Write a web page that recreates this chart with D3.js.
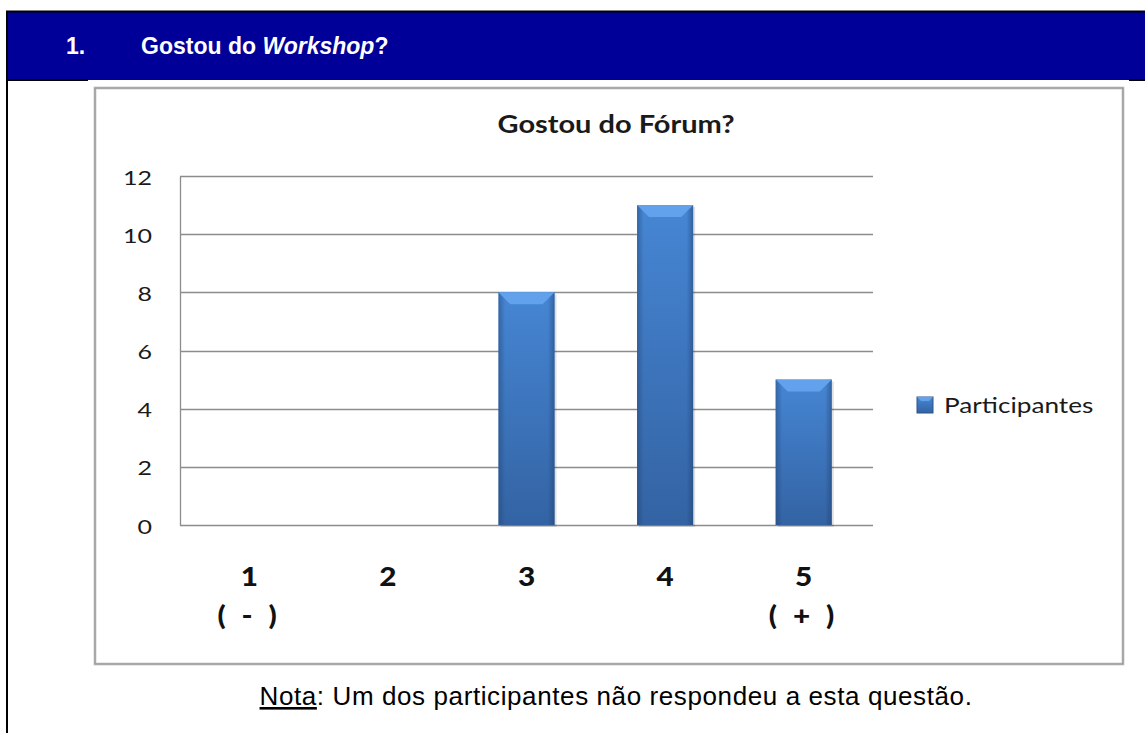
<!DOCTYPE html>
<html>
<head>
<meta charset="utf-8">
<script src="https://cdn.jsdelivr.net/npm/d3@7"></script>
<style>
  html, body { margin: 0; padding: 0; background: #fff; }
  svg { display: block; }
</style>
</head>
<body>
<div id="chart"></div>
<script>
// chart data
var categories = ['1', '2', '3', '4', '5'];
var subLabels = ['( - )', '', '', '', '( + )'];
var participantes = [0, 0, 8, 11, 5];
var yTicks = [0, 2, 4, 6, 8, 10, 12];
var seriesName = 'Participantes';
var chartTitle = 'Gostou do Fórum?';
var noteText = ': Um dos participantes não respondeu a esta questão.';

var width = 1145, height = 733;
var svg = d3.select('#chart').append('svg')
  .attr('width', width)
  .attr('height', height);

var defs = svg.append('defs');
var grad = defs.append('linearGradient')
  .attr('id', 'barGrad').attr('x1', 0).attr('y1', 0).attr('x2', 0).attr('y2', 1);
grad.append('stop').attr('offset', '0%').attr('stop-color', '#4686d4');
grad.append('stop').attr('offset', '100%').attr('stop-color', '#3363a3');
var side = defs.append('linearGradient')
  .attr('id', 'sideGrad').attr('x1', 0).attr('y1', 0).attr('x2', 1).attr('y2', 0);
side.append('stop').attr('offset', '0%').attr('stop-color', '#1f3f6e').attr('stop-opacity', 0.45);
side.append('stop').attr('offset', '12%').attr('stop-color', '#1f3f6e').attr('stop-opacity', 0);
side.append('stop').attr('offset', '88%').attr('stop-color', '#1f3f6e').attr('stop-opacity', 0);
side.append('stop').attr('offset', '100%').attr('stop-color', '#1f3f6e').attr('stop-opacity', 0.5);

// the chart picture in the source is stretched sideways, so its texts are too
function stretched(sel, cx, cy, sx) {
  return sel.attr('x', 0).attr('y', 0)
    .attr('transform', 'translate(' + cx + ',' + cy + ') scale(' + sx + ',1)');
}

// page header bar
svg.append('rect').attr('x', 6).attr('y', 11).attr('width', width - 6).attr('height', 69)
  .attr('fill', '#000099');
svg.append('line').attr('x1', 6).attr('x2', width).attr('y1', 11.5).attr('y2', 11.5)
  .attr('stroke', '#000').attr('stroke-width', 2);
svg.append('line').attr('x1', 7).attr('x2', 7).attr('y1', 11).attr('y2', height)
  .attr('stroke', '#000').attr('stroke-width', 2);
svg.append('line').attr('x1', 6).attr('x2', 88).attr('y1', 80).attr('y2', 80)
  .attr('stroke', '#000').attr('stroke-width', 2);
svg.append('line').attr('x1', 1129).attr('x2', width).attr('y1', 80).attr('y2', 80)
  .attr('stroke', '#000').attr('stroke-width', 2);

var header = svg.append('text')
  .attr('y', 54)
  .attr('fill', '#fff')
  .attr('font-family', 'Liberation Sans, Arial, sans-serif')
  .attr('font-weight', 'bold')
  .attr('font-size', 23);
header.append('tspan').attr('x', 66).text('1.');
header.append('tspan').attr('x', 141).text('Gostou do ');
header.append('tspan').attr('font-style', 'italic').text('Workshop');
header.append('tspan').text('?');

// chart frame
svg.append('rect').attr('x', 95).attr('y', 88).attr('width', 1028).attr('height', 576)
  .attr('fill', '#fff').attr('stroke', '#d4d4d4').attr('stroke-width', 3);
svg.append('rect').attr('x', 95).attr('y', 88).attr('width', 1028).attr('height', 576)
  .attr('fill', 'none').attr('stroke', '#999').attr('stroke-width', 1.5);

stretched(svg.append('text'), 616, 133, 1.16)
  .attr('text-anchor', 'middle')
  .attr('font-family', 'Lato, sans-serif')
  .attr('font-weight', 'bold')
  .attr('font-size', 25)
  .attr('fill', '#1a1a1a')
  .text(chartTitle);

var plot = {left: 180, right: 873, top: 176, bottom: 525};

var x = d3.scaleBand()
  .domain(categories)
  .range([plot.left, plot.right])
  .paddingInner(0.595)
  .paddingOuter(0.2975);

var y = d3.scaleLinear()
  .domain([0, 12])
  .range([plot.bottom, plot.top]);

// grid lines
svg.append('g')
  .selectAll('line')
  .data(yTicks)
  .join('line')
  .attr('x1', plot.left).attr('x2', plot.right)
  .attr('y1', function (d) { return Math.round(y(d)) + 0.5; })
  .attr('y2', function (d) { return Math.round(y(d)) + 0.5; })
  .attr('stroke', '#8c8c8c').attr('stroke-width', 1.3);

// y axis via d3 axis
var ySx = 1.25;
var yAxis = svg.append('g')
  .attr('transform', 'translate(' + plot.left + ',0)')
  .call(d3.axisLeft(y).tickValues(yTicks).tickSize(0).tickPadding(28 / ySx));
yAxis.select('.domain').attr('stroke', '#8c8c8c').attr('stroke-width', 1.3);
yAxis.selectAll('text')
  .attr('transform', 'scale(' + ySx + ',1)')
  .attr('dy', '0.4em')
  .attr('font-family', 'Lato, sans-serif')
  .attr('font-size', 20)
  .attr('fill', '#1a1a1a');

// bars
var bars = svg.append('g').selectAll('g')
  .data(participantes.map(function (v, i) { return {cat: categories[i], v: v}; })
    .filter(function (d) { return d.v > 0; }))
  .join('g');

bars.append('rect')
  .attr('x', function (d) { return x(d.cat) + 2; })
  .attr('y', function (d) { return y(d.v) + 2; })
  .attr('width', x.bandwidth())
  .attr('height', function (d) { return y(0) - y(d.v); })
  .attr('fill', '#000').attr('opacity', 0.12);

bars.append('rect')
  .attr('x', function (d) { return x(d.cat); })
  .attr('y', function (d) { return y(d.v); })
  .attr('width', x.bandwidth())
  .attr('height', function (d) { return y(0) - y(d.v); })
  .attr('fill', 'url(#barGrad)');

bars.append('rect')
  .attr('x', function (d) { return x(d.cat); })
  .attr('y', function (d) { return y(d.v); })
  .attr('width', x.bandwidth())
  .attr('height', function (d) { return y(0) - y(d.v); })
  .attr('fill', 'url(#sideGrad)');

bars.append('path')
  .attr('d', function (d) {
    var x0 = x(d.cat), x1 = x0 + x.bandwidth(), t = y(d.v), b = 12;
    return 'M' + x0 + ',' + t + 'L' + x1 + ',' + t + 'L' + (x1 - b) + ',' + (t + b) +
      'L' + (x0 + b) + ',' + (t + b) + 'Z';
  })
  .attr('fill', '#62a2ec');

// x labels
var xlg = svg.append('g')
  .attr('text-anchor', 'middle')
  .attr('font-family', 'Lato, sans-serif')
  .attr('font-weight', 900)
  .attr('font-size', 27)
  .attr('fill', '#111');
categories.forEach(function (c, i) {
  var cx = x(c) + x.bandwidth() / 2;
  stretched(xlg.append('text'), cx, 586, 1.1).text(c);
  if (subLabels[i]) {
    stretched(xlg.append('text'), cx, 625, 1.1)
      .attr('xml:space', 'preserve')
      .attr('letter-spacing', 4)
      .text(subLabels[i]);
  }
});

// legend
var lg = svg.append('g').attr('transform', 'translate(917,397)');
lg.append('rect').attr('width', 16).attr('height', 16).attr('fill', 'url(#barGrad)')
  .attr('stroke', '#2c5489').attr('stroke-width', 1);
lg.append('path').attr('d', 'M0,0L16,0L12,4L4,4Z').attr('fill', '#62a2ec');
stretched(lg.append('text'), 27, 16, 1.19)
  .attr('font-family', 'Lato, sans-serif')
  .attr('font-size', 22)
  .attr('fill', '#1a1a1a')
  .text(seriesName);

// note under the chart
var note = svg.append('text')
  .attr('x', 616).attr('y', 705)
  .attr('text-anchor', 'middle')
  .attr('font-family', 'Liberation Sans, Arial, sans-serif')
  .attr('font-size', 26)
  .attr('letter-spacing', 0.6)
  .attr('fill', '#000');
note.append('tspan').attr('text-decoration', 'underline').text('Nota');
note.append('tspan').text(noteText);
</script>
</body>
</html>
